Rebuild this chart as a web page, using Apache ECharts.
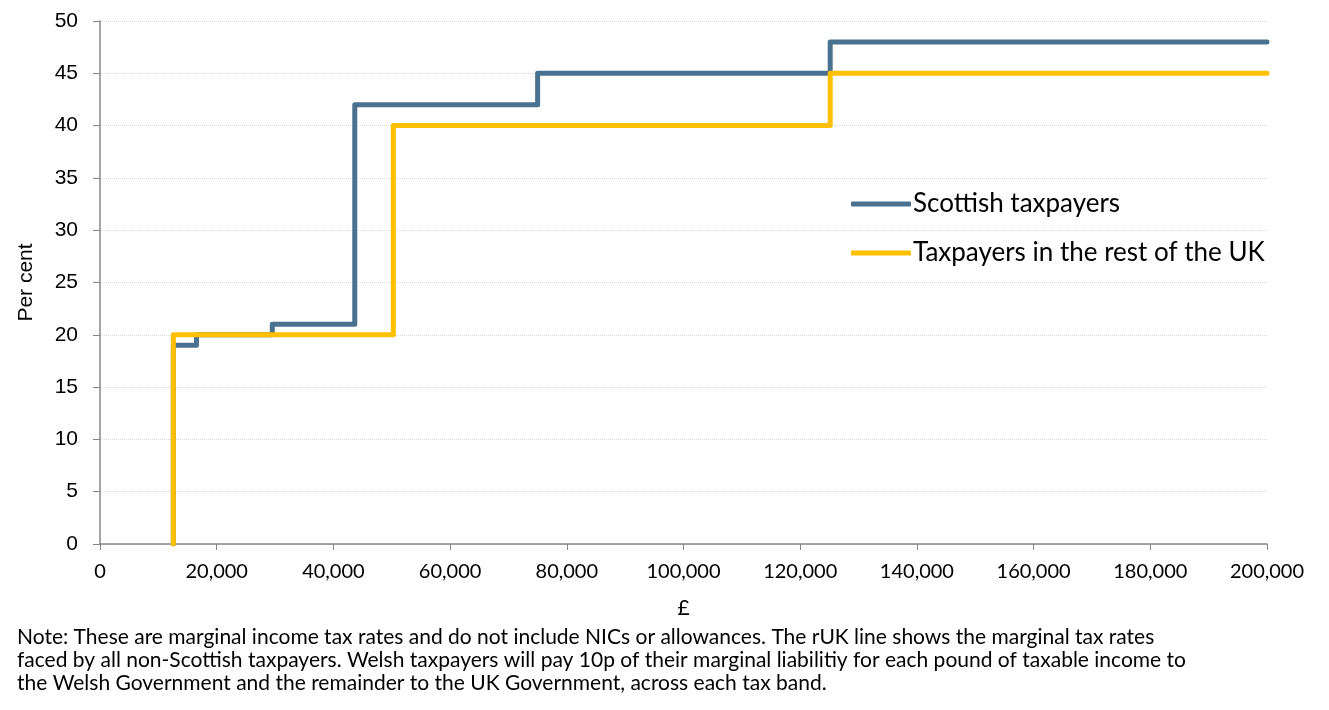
<!DOCTYPE html>
<html>
<head>
<meta charset="utf-8">
<script src="https://cdn.jsdelivr.net/npm/echarts@6/dist/echarts.min.js"></script>
<style>
  html, body { margin: 0; padding: 0; background: #fff; }
  #chart { width: 1329px; height: 710px; }
</style>
</head>
<body>
<div id="chart"></div>
<script>
// income thresholds (£) and the marginal rate (%) that starts there
const scotThresholds = [12570, 12570, 16537, 29526, 43662, 75000, 125140, 200000];
const scotRates      = [0, 19, 20, 21, 42, 45, 48, 48];
const rukThresholds  = [12570, 12570, 50270, 125140, 200000];
const rukRates       = [0, 20, 40, 45, 45];

const seriesNames = ['Scottish taxpayers', 'Taxpayers in the rest of the UK'];
const noteText = 'Note: These are marginal income tax rates and do not include NICs or allowances. The rUK line shows the marginal tax rates\n' +
  'faced by all non-Scottish taxpayers. Welsh taxpayers will pay 10p of their marginal liabilitiy for each pound of taxable income to\n' +
  'the Welsh Government and the remainder to the UK Government, across each tax band.';

const FONT = 'Lato';
const ARIAL = '"Liberation Sans", Arial, sans-serif';

function pairs(xs, ys) {
    return xs.map((x, i) => [x, ys[i]]);
}

const chart = echarts.init(document.getElementById('chart'));

const option = {
    animation: false,
    textStyle: { fontFamily: FONT, color: '#000' },
    grid: { left: 100, right: 62, top: 21, bottom: 166, containLabel: false },
    legend: {
        orient: 'vertical',
        left: 846,
        top: 186,
        icon: 'roundRect',
        itemWidth: 60,
        itemHeight: 5,
        itemGap: 23,
        textStyle: { fontSize: 26, color: '#000', fontFamily: FONT, padding: [0, 0, 0, -3] },
        data: seriesNames
    },
    xAxis: {
        type: 'value',
        min: 0,
        max: 200000,
        interval: 20000,
        name: '£',
        nameLocation: 'middle',
        nameGap: 54,
        nameTextStyle: { fontSize: 21, color: '#000' },
        axisLine: { lineStyle: { color: '#868686', width: 1.5 } },
        axisTick: { show: true, length: 6, lineStyle: { color: '#868686' } },
        axisLabel: {
            fontSize: 20, color: '#000', margin: 18,
            formatter: v => v.toLocaleString('en-GB')
        },
        splitLine: { show: false }
    },
    yAxis: {
        type: 'value',
        min: 0,
        max: 50,
        interval: 5,
        name: 'Per cent',
        nameLocation: 'middle',
        nameRotate: 90,
        nameGap: 63,
        nameTextStyle: { fontSize: 21, color: '#000', fontFamily: ARIAL },
        axisLine: { show: true, lineStyle: { color: '#868686', width: 1.5 } },
        axisTick: { show: true, length: 7, lineStyle: { color: '#868686' } },
        axisLabel: { fontSize: 21, color: '#000', margin: 22, fontFamily: ARIAL },
        splitLine: { show: true, lineStyle: { color: '#d9d9d9', type: 'dotted', width: 1 } }
    },
    series: [
        {
            name: seriesNames[0],
            type: 'line',
            step: 'end',
            symbol: 'none',
            data: pairs(scotThresholds, scotRates),
            lineStyle: { color: '#4A7290', width: 5, join: 'round', cap: 'round' },
            itemStyle: { color: '#4A7290' },
            z: 2
        },
        {
            name: seriesNames[1],
            type: 'line',
            step: 'end',
            symbol: 'none',
            data: pairs(rukThresholds, rukRates),
            lineStyle: { color: '#FFC000', width: 5, join: 'round', cap: 'round' },
            itemStyle: { color: '#FFC000' },
            z: 3
        }
    ],
    graphic: [
        {
            type: 'text',
            left: 17,
            top: 626,
            style: {
                text: noteText,
                font: '21px ' + FONT,
                fill: '#000',
                lineHeight: 23
            }
        }
    ]
};

chart.setOption(option);
</script>
</body>
</html>
